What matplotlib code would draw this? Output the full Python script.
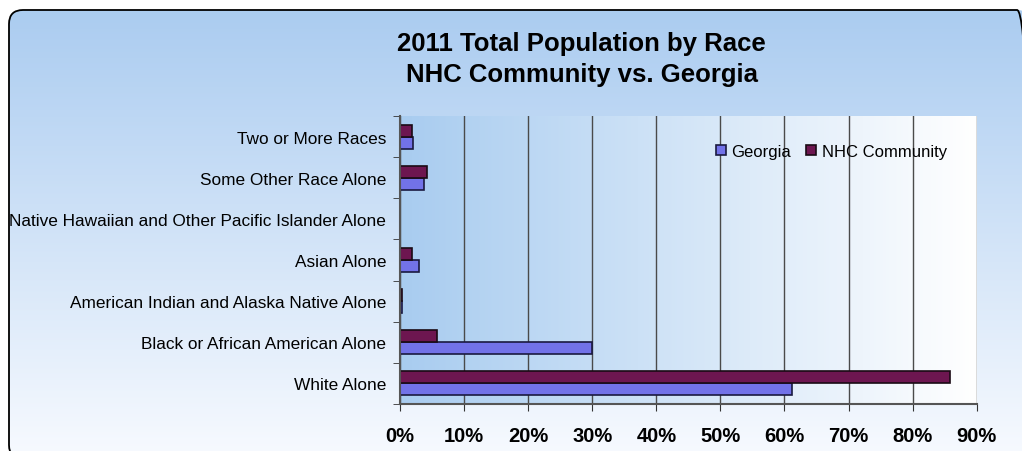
import numpy as np
import matplotlib
matplotlib.use("Agg")
import matplotlib.pyplot as plt
from matplotlib.patches import FancyBboxPatch
from matplotlib.transforms import IdentityTransform

plt.rcParams["font.family"] = ["Liberation Sans", "DejaVu Sans"]

categories = ["White Alone", "Black or African American Alone",
              "American Indian and Alaska Native Alone", "Asian Alone",
              "Native Hawaiian and Other Pacific Islander Alone",
              "Some Other Race Alone", "Two or More Races"]
georgia = [61.2, 29.9, 0.3, 2.9, 0.05, 3.8, 2.1]
nhc = [85.8, 5.7, 0.3, 1.9, 0.0, 4.2, 1.9]
xticks = [0, 10, 20, 30, 40, 50, 60, 70, 80, 90]

fig = plt.figure(figsize=(10.22, 4.52), dpi=100)

# outer rounded background with vertical gradient (box in pixel coords)
bg = fig.add_axes([0, 0, 1, 1])
bg.axis("off")
grad = np.linspace(0, 1, 256).reshape(-1, 1)
top_c = np.array([0.663, 0.796, 0.941])
bot_c = np.array([0.965, 0.978, 0.998])
img = top_c + grad[..., None] * (bot_c - top_c)
im = bg.imshow(img, extent=[0, 1, 0, 1], aspect="auto", zorder=0)
bg.set_xlim(0, 1)
bg.set_ylim(0, 1)
box = FancyBboxPatch((9, -8), 1022, 449, boxstyle="round,pad=0,rounding_size=14",
                     facecolor="none", edgecolor="black", linewidth=1.3,
                     transform=IdentityTransform(), zorder=2)
fig.add_artist(box)
im.set_clip_path(box)

fig.text(0.569, 0.903, "2011 Total Population by Race",
         ha="center", va="center", fontsize=18.5, fontweight="bold")
fig.text(0.569, 0.833, "NHC Community vs. Georgia",
         ha="center", va="center", fontsize=18.5, fontweight="bold")

ax = fig.add_axes([0.3914, 0.104, 0.5643, 0.637])
ax.set_facecolor("none")
# horizontal gradient in plot area
hgrad = np.linspace(0, 1, 256).reshape(1, -1)
lc = np.array([0.66, 0.80, 0.94])
rc = np.array([1.0, 1.0, 1.0])
himg = lc + hgrad[..., None] * (rc - lc)
ax.imshow(himg, extent=[0, 1, 0, 1], transform=ax.transAxes, aspect="auto", zorder=0)

y = np.arange(len(categories))
h = 0.29
ax.barh(y - h / 2, georgia, height=h, color="#7272e8", edgecolor="#1a1a40",
        linewidth=1.2, label="Georgia", zorder=3)
ax.barh(y + h / 2, nhc, height=h, color="#6d1650", edgecolor="#1a0a14",
        linewidth=1.2, label="NHC Community", zorder=3)

ax.set_xlim(0, 90)
ax.set_ylim(-0.5, len(categories) - 0.5)
ax.set_xticks(xticks)
ax.set_xticklabels([f"{t}%" for t in xticks], fontsize=14.5, fontweight="bold")
ax.set_yticks(y)
ax.set_yticklabels(categories, fontsize=12.4)
ax.set_yticks(np.arange(len(categories) + 1) - 0.5, minor=True)
ax.tick_params(axis="y", which="major", length=0, pad=10)
ax.tick_params(axis="y", which="minor", length=5, color="#333333")
ax.tick_params(axis="x", length=5, color="#333333", pad=11)
ax.grid(axis="x", color="#4a4a4a", linewidth=1, zorder=1)
ax.set_axisbelow(True)
for s in ["top", "right"]:
    ax.spines[s].set_visible(False)
for s in ["left", "bottom"]:
    ax.spines[s].set_color("#555555")
    ax.spines[s].set_linewidth(1.5)
    ax.spines[s].set_zorder(4)

ax.legend(loc="upper right", bbox_to_anchor=(0.975, 0.955), ncol=2, frameon=False,
          fontsize=12, handlelength=0.6, handleheight=0.6, handletextpad=0.35,
          columnspacing=0.9)

fig.savefig("out.png", dpi=100)
